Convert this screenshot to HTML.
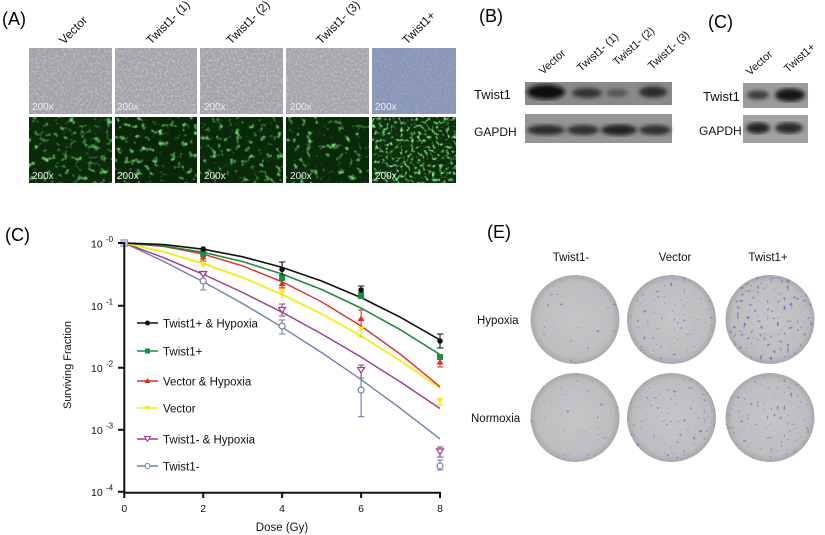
<!DOCTYPE html>
<html><head><meta charset="utf-8"><style>
html,body{margin:0;padding:0;background:#fff;}
svg{display:block;}
text{font-family:"Liberation Sans",Arial,sans-serif;}
</style></head><body>
<svg width="825" height="535" viewBox="0 0 825 535" xmlns="http://www.w3.org/2000/svg">
<defs>
  <filter id="g1" x="0" y="0" width="1" height="1"><feTurbulence type="fractalNoise" baseFrequency="0.45" numOctaves="2" seed="3"/><feColorMatrix type="matrix" values="0 0 0 0 1 0 0 0 0 1 0 0 0 0 1 3 0 0 0 -1.35"/></filter>
  <filter id="g2" x="0" y="0" width="1" height="1"><feTurbulence type="fractalNoise" baseFrequency="0.45" numOctaves="2" seed="7"/><feColorMatrix type="matrix" values="0 0 0 0 1 0 0 0 0 1 0 0 0 0 1 3 0 0 0 -1.35"/></filter>
  <filter id="f1" x="0" y="0" width="1" height="1"><feTurbulence type="fractalNoise" baseFrequency="0.16" numOctaves="2" seed="11"/><feColorMatrix type="matrix" values="0 0 0 0 0.2 0 0 0 0 0.85 0 0 0 0 0.2 3.5 0 0 0 -1.95"/></filter>
  <filter id="f2" x="0" y="0" width="1" height="1"><feTurbulence type="fractalNoise" baseFrequency="0.17" numOctaves="2" seed="23"/><feColorMatrix type="matrix" values="0 0 0 0 0.2 0 0 0 0 0.85 0 0 0 0 0.2 3.5 0 0 0 -2.0"/></filter>
  <filter id="f3" x="0" y="0" width="1" height="1"><feTurbulence type="fractalNoise" baseFrequency="0.17" numOctaves="2" seed="37"/><feColorMatrix type="matrix" values="0 0 0 0 0.2 0 0 0 0 0.85 0 0 0 0 0.2 3.5 0 0 0 -1.98"/></filter>
  <filter id="f4" x="0" y="0" width="1" height="1"><feTurbulence type="fractalNoise" baseFrequency="0.16" numOctaves="2" seed="41"/><feColorMatrix type="matrix" values="0 0 0 0 0.2 0 0 0 0 0.85 0 0 0 0 0.2 3.5 0 0 0 -2.05"/></filter>
  <filter id="f5" x="0" y="0" width="1" height="1"><feTurbulence type="fractalNoise" baseFrequency="0.28" numOctaves="2" seed="53"/><feColorMatrix type="matrix" values="0 0 0 0 0.25 0 0 0 0 0.9 0 0 0 0 0.25 3.5 0 0 0 -1.8"/></filter>
  <filter id="p1" x="0" y="0" width="1" height="1"><feTurbulence type="fractalNoise" baseFrequency="0.3" numOctaves="1" seed="5"/><feColorMatrix type="matrix" values="0 0 0 0 0.28 0 0 0 0 0.18 0 0 0 0 0.5 12 0 0 0 -8.4"/></filter>
  <filter id="p2" x="0" y="0" width="1" height="1"><feTurbulence type="fractalNoise" baseFrequency="0.3" numOctaves="1" seed="9"/><feColorMatrix type="matrix" values="0 0 0 0 0.28 0 0 0 0 0.18 0 0 0 0 0.5 12 0 0 0 -8.0"/></filter>
  <filter id="p3" x="0" y="0" width="1" height="1"><feTurbulence type="fractalNoise" baseFrequency="0.3" numOctaves="1" seed="14"/><feColorMatrix type="matrix" values="0 0 0 0 0.28 0 0 0 0 0.18 0 0 0 0 0.55 12 0 0 0 -7.6"/></filter>
  <filter id="bl"><feGaussianBlur stdDeviation="2"/></filter>
  <radialGradient id="plate" cx="0.5" cy="0.5" r="0.5">
    <stop offset="0" stop-color="#c6c6c8"/><stop offset="0.85" stop-color="#bebec0"/><stop offset="1" stop-color="#a8a8ac"/>
  </radialGradient>
  <clipPath id="c1"><circle cx="575" cy="319.5" r="44.5"/></clipPath>
  <clipPath id="c2"><circle cx="671.5" cy="319.5" r="44.5"/></clipPath>
  <clipPath id="c3"><circle cx="770" cy="319.5" r="44.5"/></clipPath>
  <clipPath id="c4"><circle cx="575" cy="417.5" r="44.5"/></clipPath>
  <clipPath id="c5"><circle cx="671.5" cy="417.5" r="44.5"/></clipPath>
  <clipPath id="c6"><circle cx="770" cy="417.5" r="44.5"/></clipPath>
</defs>
<rect width="825" height="535" fill="#fff"/>

<!-- Panel A -->
<text x="2" y="25" font-size="18">(A)</text>
<g font-size="12" fill="#111">
  <text transform="translate(64,45) rotate(-45)">Vector</text>
  <text transform="translate(151,45) rotate(-45)">Twist1- (1)</text>
  <text transform="translate(231,45) rotate(-45)">Twist1- (2)</text>
  <text transform="translate(321,45) rotate(-45)">Twist1- (3)</text>
  <text transform="translate(407,45) rotate(-45)">Twist1+</text>
</g>
<rect x="29" y="48" width="83" height="66" fill="#a2a2a9"/>
<rect x="29" y="48" width="83" height="66" filter="url(#g1)" opacity="0.3"/>
<rect x="115" y="48" width="82" height="66" fill="#a3a3a9"/>
<rect x="115" y="48" width="82" height="66" filter="url(#g2)" opacity="0.35"/>
<rect x="200" y="48" width="83" height="66" fill="#a2a2a8"/>
<rect x="200" y="48" width="83" height="66" filter="url(#g1)" opacity="0.35"/>
<rect x="286" y="48" width="83" height="66" fill="#a6a5ab"/>
<rect x="286" y="48" width="83" height="66" filter="url(#g2)" opacity="0.3"/>
<rect x="372" y="48" width="84" height="66" fill="#8a96b8"/>
<rect x="372" y="48" width="84" height="66" filter="url(#g1)" opacity="0.12"/>
<rect x="29" y="117" width="83" height="66" fill="#0b2a0b"/>
<rect x="29" y="117" width="83" height="66" filter="url(#f1)"/>
<rect x="115" y="117" width="82" height="66" fill="#092609"/>
<rect x="115" y="117" width="82" height="66" filter="url(#f2)"/>
<rect x="200" y="117" width="83" height="66" fill="#0a280a"/>
<rect x="200" y="117" width="83" height="66" filter="url(#f3)"/>
<rect x="286" y="117" width="83" height="66" fill="#0a280a"/>
<rect x="286" y="117" width="83" height="66" filter="url(#f4)"/>
<rect x="372" y="117" width="84" height="66" fill="#0c2e0c"/>
<rect x="372" y="117" width="84" height="66" filter="url(#f5)"/>
<g font-size="10" fill="#eee">
  <text x="32" y="110">200x</text><text x="117" y="110">200x</text><text x="204" y="110">200x</text><text x="290" y="110">200x</text><text x="375" y="110">200x</text>
  <text x="32" y="179">200x</text><text x="117" y="179">200x</text><text x="204" y="179">200x</text><text x="290" y="179">200x</text><text x="375" y="179">200x</text>
</g>

<!-- Panel B -->
<text x="479" y="22" font-size="18">(B)</text>
<g font-size="11" fill="#111">
  <text transform="translate(543,75) rotate(-42)">Vector</text>
  <text transform="translate(581,72) rotate(-42)">Twist1- (1)</text>
  <text transform="translate(617,66) rotate(-42)">Twist1- (2)</text>
  <text transform="translate(652,70) rotate(-42)">Twist1- (3)</text>
</g>
<text x="474" y="99" font-size="13" fill="#111">Twist1</text>
<text x="474" y="136" font-size="12" fill="#111">GAPDH</text>
<rect x="525" y="82" width="147" height="23" fill="#8a8a8a"/>
<g filter="url(#bl)">
  <ellipse cx="546" cy="92" rx="19" ry="7.5" fill="#0c0c0c"/>
  <ellipse cx="587" cy="93" rx="15" ry="5" fill="#333"/>
  <ellipse cx="617" cy="93" rx="11" ry="4" fill="#555"/>
  <ellipse cx="653" cy="92" rx="14" ry="5.5" fill="#2a2a2a"/>
</g>
<rect x="525" y="114" width="147" height="29" fill="#959595"/>
<g filter="url(#bl)">
  <ellipse cx="546" cy="130" rx="19" ry="5" fill="#2a2a2a"/>
  <ellipse cx="583" cy="130" rx="16" ry="5" fill="#2e2e2e"/>
  <ellipse cx="619" cy="130" rx="18" ry="5.5" fill="#222"/>
  <ellipse cx="655" cy="130" rx="16" ry="5" fill="#2e2e2e"/>
</g>

<!-- Panel C top -->
<text x="708" y="28" font-size="18">(C)</text>
<g font-size="11" fill="#111">
  <text transform="translate(750,76) rotate(-42)">Vector</text>
  <text transform="translate(788,73) rotate(-42)">Twist1+</text>
</g>
<text x="703" y="101" font-size="13" fill="#111">Twist1</text>
<text x="699" y="135" font-size="12" fill="#111">GAPDH</text>
<rect x="743" y="83" width="65" height="25" fill="#9c9c9c"/>
<g filter="url(#bl)">
  <ellipse cx="758" cy="95" rx="11" ry="4.5" fill="#3a3a3a"/>
  <ellipse cx="790" cy="95" rx="15" ry="6.5" fill="#151515"/>
</g>
<rect x="743" y="115" width="65" height="28" fill="#a2a2a2"/>
<g filter="url(#bl)">
  <ellipse cx="758" cy="128" rx="12" ry="5.5" fill="#222"/>
  <ellipse cx="789" cy="128" rx="14" ry="5.5" fill="#2a2a2a"/>
</g>

<!-- Panel C chart -->
<text x="5" y="241" font-size="18">(C)</text>
<text transform="translate(71,365) rotate(-90)" font-size="11" text-anchor="middle" fill="#111">Surviving Fraction</text>
<g font-size="10.5" fill="#111">
  <text x="91" y="247.5">10</text><text x="106" y="242" font-size="8">-0</text>
  <text x="91" y="310">10</text><text x="106" y="304.5" font-size="8">-1</text>
  <text x="91" y="372">10</text><text x="106" y="366.5" font-size="8">-2</text>
  <text x="91" y="434">10</text><text x="106" y="428.5" font-size="8">-3</text>
  <text x="91" y="496">10</text><text x="106" y="490.5" font-size="8">-4</text>
</g>
<g font-size="10.5" fill="#111" text-anchor="middle">
  <text x="124.3" y="512">0</text><text x="203.2" y="512">2</text><text x="282.1" y="512">4</text><text x="361.1" y="512">6</text><text x="440" y="512">8</text>
</g>
<text x="282" y="531" font-size="11.5" text-anchor="middle" fill="#111">Dose (Gy)</text>

<g fill="none" stroke-width="1.4">
  <polyline stroke="#6f80ad" points="124.3,243 163.8,261.5 203.2,281.7 242.7,303.6 282.1,327.2 321.6,352.6 361.1,379.6 400.5,408.4 440,438.9"/>
  <polyline stroke="#9a3d8c" points="124.3,243 163.8,257.8 203.2,274.3 242.7,292.5 282.1,312.3 321.6,333.9 361.1,357.1 400.5,382.0 440,408.5"/>
  <polyline stroke="#f2ec1c" stroke-width="1.8" points="124.3,243 163.8,251.9 203.2,263.5 242.7,277.6 282.1,294.5 321.6,313.9 361.1,336 400.5,360.7 440,388.1"/>
  <polyline stroke="#de2c2c" points="124.3,243 163.8,246.5 203.2,254.1 242.7,265.9 282.1,281.8 321.6,301.8 361.1,326.0 400.5,354.3 440,386.7"/>
  <polyline stroke="#1f8c42" stroke-width="1.6" points="124.3,243 163.8,246.1 203.2,252.3 242.7,261.6 282.1,274 321.6,289.5 361.1,308.1 400.5,329.8 440,354.6"/>
  <polyline stroke="#111" stroke-width="1.6" points="124.3,243 163.8,244.6 203.2,249.2 242.7,256.8 282.1,267.4 321.6,281.0 361.1,297.6 400.5,317.3 440,339.9"/>
</g>

<g stroke-width="1.1" fill="none">
  <g stroke="#6f80ad">
    <path d="M203.2,274V290M200,274h6.4M200,290h6.4"/>
    <path d="M282.1,320V334M279,320h6.4M279,334h6.4"/>
    <path d="M361.1,378V416.7M358,416.7h6.4M358,378h6.4"/>
    <path d="M440,460V470M437,460h6.4M437,470h6.4"/>
  </g>
  <g stroke="#9a3d8c">
    <path d="M282.1,304V316M279,304h6.4M279,316h6.4"/>
    <path d="M361.1,365V378M358,365h6.4"/>
    <path d="M440,447V457M437,447h6.4M437,457h6.4"/>
  </g>
  <g stroke="#e6d800">
    <path d="M282.1,287V298M279,287h6.4"/>
    <path d="M361.1,322V337M358,337h6.4"/>
    <path d="M440,397V405M437,405h6.4"/>
  </g>
  <g stroke="#de2c2c">
    <path d="M203.2,251V261M200,261h6.4M200,251h6.4"/>
    <path d="M282.1,279V288M279,288h6.4"/>
    <path d="M361.1,310V327M358,310h6.4"/>
    <path d="M440,357V367M437,367h6.4"/>
  </g>
  <g stroke="#111">
    <path d="M282.1,262V275M279,262h6.4M279,275h6.4"/>
    <path d="M361.1,286V297M358,286h6.4"/>
    <path d="M440,334V348M437,334h6.4M437,348h6.4"/>
  </g>
</g>

<g>
  <g fill="#fff" stroke="#6f80ad" stroke-width="1.2">
    <circle cx="203.2" cy="281" r="3"/><circle cx="282.1" cy="326" r="3"/><circle cx="361.1" cy="390" r="3"/><circle cx="440" cy="466" r="3"/>
  </g>
  <g fill="#fff" stroke="#9a3d8c" stroke-width="1.2">
    <path d="M199.7,271.5h7l-3.5,5.5z"/><path d="M278.6,307.5h7l-3.5,5.5z"/><path d="M357.6,367.5h7l-3.5,5.5z"/><path d="M436.5,449h7l-3.5,5.5z"/>
  </g>
  <g fill="#f2ec1c">
    <path d="M199.7,262.5h7l-3.5,5.5z"/><path d="M278.6,289.5h7l-3.5,5.5z"/><path d="M357.6,326.5h7l-3.5,5.5z"/><path d="M436.5,398.5h7l-3.5,5.5z"/>
  </g>
  <g fill="#de2c2c">
    <path d="M199.7,259.5h7l-3.5,-5.5z"/><path d="M278.6,286h7l-3.5,-5.5z"/><path d="M357.6,321h7l-3.5,-5.5z"/><path d="M436.5,364.5h7l-3.5,-5.5z"/>
  </g>
  <g fill="#1f8c42">
    <rect x="200.2" y="251" width="6" height="6"/><rect x="279.1" y="275" width="6" height="6"/><rect x="358.1" y="292" width="6" height="7"/><rect x="437" y="354" width="6" height="6"/>
  </g>
  <g fill="#111">
    <circle cx="203.2" cy="249" r="2.8"/><circle cx="282.1" cy="269.3" r="2.8"/><circle cx="361.1" cy="290" r="2.8"/><circle cx="440" cy="341" r="2.8"/>
  </g>
  <rect x="121" y="239.8" width="6.5" height="6.5" fill="#c8cde4" stroke="#8a96c0" stroke-width="1"/>
</g>

<g stroke="#111" stroke-width="2" fill="none">
  <path d="M124.3,242V492.7H441"/>
  <path d="M118,243H124.3M118,305.7H124.3M118,367.7H124.3M118,429.7H124.3M118,491.7H124.3"/>
  <path d="M124.3,492V498M203.2,492V498M282.1,492V498M361.1,492V498M440,492V498"/>
</g>

<g stroke-width="1.4">
  <line x1="137" y1="323" x2="158" y2="323" stroke="#111"/><circle cx="147.5" cy="323" r="2.5" fill="#111"/>
  <line x1="137" y1="351" x2="158" y2="351" stroke="#1f8c42"/><rect x="145" y="348.5" width="5" height="5" fill="#1f8c42"/>
  <line x1="137" y1="381" x2="158" y2="381" stroke="#de2c2c"/><path d="M144.5,383h6l-3,-5z" fill="#de2c2c"/>
  <line x1="137" y1="408" x2="158" y2="408" stroke="#f2ec1c"/><path d="M144.5,406h6l-3,5z" fill="#f2ec1c"/>
  <line x1="137" y1="439" x2="158" y2="439" stroke="#9a3d8c"/><path d="M144.5,436.5h6l-3,5z" fill="#fff" stroke="#9a3d8c" stroke-width="1"/>
  <line x1="137" y1="466" x2="158" y2="466" stroke="#6f80ad"/><circle cx="147.5" cy="466" r="2.5" fill="#fff" stroke="#6f80ad" stroke-width="1"/>
</g>
<g font-size="11.5" fill="#111">
  <text x="163" y="327.5">Twist1+ &amp; Hypoxia</text>
  <text x="163" y="355.5">Twist1+</text>
  <text x="163" y="385.5">Vector &amp; Hypoxia</text>
  <text x="163" y="412.5">Vector</text>
  <text x="163" y="443.5">Twist1- &amp; Hypoxia</text>
  <text x="163" y="470.5">Twist1-</text>
</g>

<!-- Panel E -->
<text x="487" y="238" font-size="18">(E)</text>
<g font-size="11.5" fill="#111" text-anchor="middle">
  <text x="571" y="261">Twist1-</text>
  <text x="675" y="261">Vector</text>
  <text x="768" y="261">Twist1+</text>
</g>
<text x="477" y="324" font-size="11.5" fill="#111">Hypoxia</text>
<text x="471" y="422" font-size="11.5" fill="#111">Normoxia</text>

<circle cx="575" cy="319.5" r="44.5" fill="url(#plate)"/>
<circle cx="671.5" cy="319.5" r="44.5" fill="url(#plate)"/>
<circle cx="770" cy="319.5" r="44.5" fill="url(#plate)"/>
<circle cx="575" cy="417.5" r="44.5" fill="url(#plate)"/>
<circle cx="671.5" cy="417.5" r="44.5" fill="url(#plate)"/>
<circle cx="770" cy="417.5" r="44.5" fill="url(#plate)"/>
<g clip-path="url(#c1)"><rect x="530" y="275" width="90" height="90" filter="url(#p1)"/></g>
<g clip-path="url(#c2)"><rect x="627" y="275" width="90" height="90" filter="url(#p2)"/></g>
<g clip-path="url(#c3)"><rect x="725" y="275" width="90" height="90" filter="url(#p3)"/></g>
<g clip-path="url(#c4)"><rect x="530" y="373" width="90" height="90" filter="url(#p1)"/></g>
<g clip-path="url(#c5)"><rect x="627" y="373" width="90" height="90" filter="url(#p2)"/></g>
<g clip-path="url(#c6)"><rect x="725" y="373" width="90" height="90" filter="url(#p2)"/></g>
</svg>
</body></html>
